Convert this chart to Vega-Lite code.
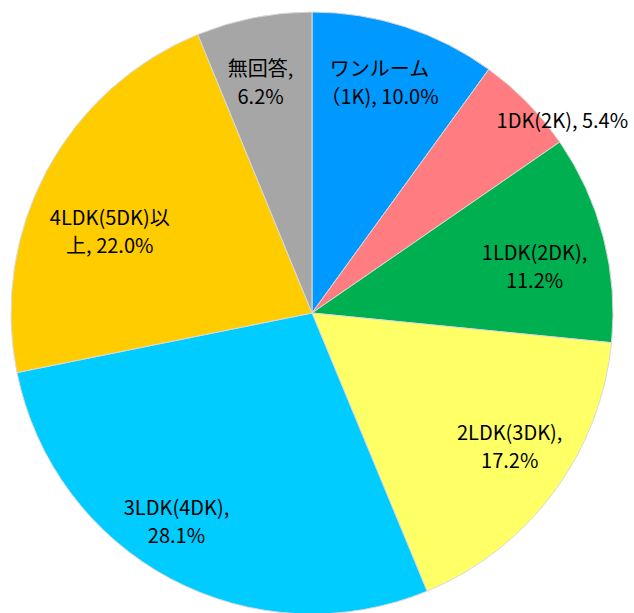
{
  "$schema": "https://vega.github.io/schema/vega-lite/v6.json",
  "width": 624,
  "height": 626,
  "padding": 0,
  "background": "white",
  "view": {"stroke": null},
  "data": {
    "values": [
      {"idx": 1, "key": "ワンルーム", "label": "ワンルーム\n（1K), 10.0%", "value": 10.0},
      {"idx": 2, "key": "1DK", "label": "1DK(2K), 5.4%", "value": 5.4},
      {"idx": 3, "key": "1LDK", "label": "1LDK(2DK),\n11.2%", "value": 11.2},
      {"idx": 4, "key": "2LDK", "label": "2LDK(3DK),\n17.2%", "value": 17.2},
      {"idx": 5, "key": "3LDK", "label": "3LDK(4DK),\n28.1%", "value": 28.1},
      {"idx": 6, "key": "4LDK", "label": "4LDK(5DK)以\n上, 22.0%", "value": 22.0},
      {"idx": 7, "key": "無回答", "label": "無回答,\n6.2%", "value": 6.2}
    ]
  },
  "encoding": {
    "theta": {"field": "value", "type": "quantitative", "stack": true},
    "order": {"field": "idx", "type": "quantitative", "sort": "ascending"}
  },
  "layer": [
    {
      "mark": {"type": "arc", "outerRadius": 301, "stroke": "#d9d9d9", "strokeWidth": 1},
      "encoding": {
        "color": {
          "field": "key",
          "type": "nominal",
          "legend": null,
          "scale": {
            "domain": ["ワンルーム", "1DK", "1LDK", "2LDK", "3LDK", "4LDK", "無回答"],
            "range": ["#0099FF", "#FF7C80", "#00B050", "#FFFF66", "#00CCFF", "#FFCC00", "#A6A6A6"]
          }
        }
      }
    },
    {
      "mark": {"type": "text", "radius": 235, "dx": -5, "dy": -19, "fontSize": 20, "font": "Noto Sans CJK JP", "lineBreak": "\n", "lineHeight": 28, "align": "center", "baseline": "middle", "color": "black"},
      "encoding": {"text": {"condition": {"test": "datum.key === 'ワンルーム'", "field": "label", "type": "nominal"}, "value": ""}}
    },
    {
      "mark": {"type": "text", "radius": 315, "dx": 25, "dy": 29, "fontSize": 20, "font": "Noto Sans CJK JP", "lineBreak": "\n", "lineHeight": 28, "align": "center", "baseline": "middle", "color": "black"},
      "encoding": {"text": {"condition": {"test": "datum.key === '1DK'", "field": "label", "type": "nominal"}, "value": ""}}
    },
    {
      "mark": {"type": "text", "radius": 235, "dx": -5, "dy": 0, "fontSize": 20, "font": "Noto Sans CJK JP", "lineBreak": "\n", "lineHeight": 28, "align": "center", "baseline": "middle", "color": "black"},
      "encoding": {"text": {"condition": {"test": "datum.key === '1LDK'", "field": "label", "type": "nominal"}, "value": ""}}
    },
    {
      "mark": {"type": "text", "radius": 235, "dx": 9, "dy": -19, "fontSize": 20, "font": "Noto Sans CJK JP", "lineBreak": "\n", "lineHeight": 28, "align": "center", "baseline": "middle", "color": "black"},
      "encoding": {"text": {"condition": {"test": "datum.key === '2LDK'", "field": "label", "type": "nominal"}, "value": ""}}
    },
    {
      "mark": {"type": "text", "radius": 235, "dx": -25, "dy": -11, "fontSize": 20, "font": "Noto Sans CJK JP", "lineBreak": "\n", "lineHeight": 28, "align": "center", "baseline": "middle", "color": "black"},
      "encoding": {"text": {"condition": {"test": "datum.key === '3LDK'", "field": "label", "type": "nominal"}, "value": ""}}
    },
    {
      "mark": {"type": "text", "radius": 235, "dx": 5, "dy": 17, "fontSize": 20, "font": "Noto Sans CJK JP", "lineBreak": "\n", "lineHeight": 28, "align": "center", "baseline": "middle", "color": "black"},
      "encoding": {"text": {"condition": {"test": "datum.key === '4LDK'", "field": "label", "type": "nominal"}, "value": ""}}
    },
    {
      "mark": {"type": "text", "radius": 235, "dx": -6, "dy": -12, "fontSize": 20, "font": "Noto Sans CJK JP", "lineBreak": "\n", "lineHeight": 28, "align": "center", "baseline": "middle", "color": "black"},
      "encoding": {"text": {"condition": {"test": "datum.key === '無回答'", "field": "label", "type": "nominal"}, "value": ""}}
    }
  ]
}
